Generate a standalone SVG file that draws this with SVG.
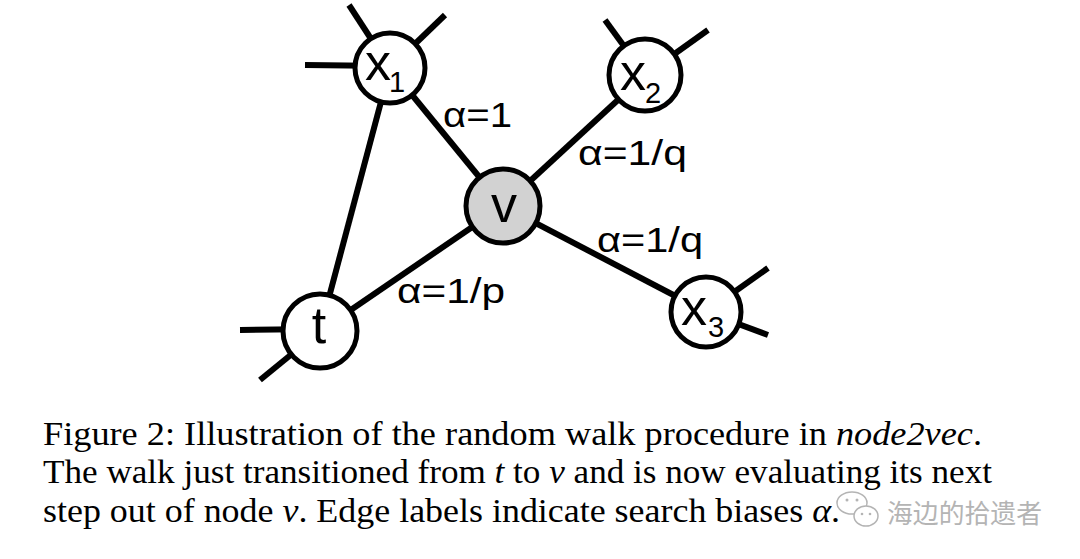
<svg xmlns="http://www.w3.org/2000/svg" width="1080" height="559" viewBox="0 0 1080 559">
<style>
.edge{stroke:#000;stroke-width:6;stroke-linecap:butt;fill:none}
.node{fill:#fff;stroke:#000;stroke-width:5}
.lbl{font-family:"Liberation Sans",Arial,sans-serif;fill:#000}
.nl{font-size:52px}
.sub{font-size:29px}
.el{font-size:35px}
.cap{font-family:"Liberation Serif","Times New Roman",serif;font-size:34px;fill:#000}
.it{font-style:italic}
.wm{font-family:"Noto Sans CJK SC",sans-serif;font-size:26px;fill:#b4b4b4}
</style>
<rect width="1080" height="559" fill="#fff"/>
<g id="connectors">
<line class="edge" x1="390" y1="68" x2="503" y2="206"/>
<line class="edge" x1="645" y1="75" x2="503" y2="206"/>
<line class="edge" x1="503" y1="206" x2="706" y2="312"/>
<line class="edge" x1="503" y1="206" x2="320" y2="331"/>
<line class="edge" x1="390" y1="68" x2="320" y2="331"/>
<line class="edge" x1="349" y1="5" x2="390" y2="68"/>
<line class="edge" x1="445" y1="15" x2="390" y2="68"/>
<line class="edge" x1="305" y1="65" x2="390" y2="66"/>
<line class="edge" x1="605" y1="20" x2="645" y2="75"/>
<line class="edge" x1="708" y1="30" x2="645" y2="75"/>
<line class="edge" x1="240" y1="330" x2="320" y2="329"/>
<line class="edge" x1="260" y1="380" x2="320" y2="331"/>
<line class="edge" x1="768" y1="268" x2="706" y2="312"/>
<line class="edge" x1="768" y1="335" x2="706" y2="312"/>
<text class="lbl el" x="443" y="127" textLength="69" lengthAdjust="spacingAndGlyphs">α=1</text>
<text class="lbl el" x="578" y="165" textLength="109" lengthAdjust="spacingAndGlyphs">α=1/q</text>
<text class="lbl el" x="597" y="252" textLength="106" lengthAdjust="spacingAndGlyphs">α=1/q</text>
<text class="lbl el" x="397" y="303" textLength="108" lengthAdjust="spacingAndGlyphs">α=1/p</text>
</g>
<g id="node-x1">
<circle class="node" cx="390" cy="68" r="35"/>
<text class="lbl nl" x="365" y="80">x</text><text class="lbl sub" x="389" y="92">1</text>
</g>
<g id="node-x2">
<circle class="node" cx="645" cy="75" r="36"/>
<text class="lbl nl" x="620" y="90">x</text><text class="lbl sub" x="645" y="103">2</text>
</g>
<g id="node-v">
<circle class="node" cx="503" cy="206" r="37" style="fill:#d2d2d2"/>
<text class="lbl nl" x="504" y="222" text-anchor="middle">v</text>
</g>
<g id="node-t">
<circle class="node" cx="320" cy="331" r="37"/>
<text class="lbl nl" x="319" y="343" text-anchor="middle">t</text>
</g>
<g id="node-x3">
<circle class="node" cx="706" cy="312" r="35"/>
<text class="lbl nl" x="681" y="325">x</text><text class="lbl sub" x="708" y="337">3</text>
</g>
<g id="caption">
<text class="cap" x="43" y="445" textLength="939" lengthAdjust="spacingAndGlyphs">Figure 2: Illustration of the random walk procedure in <tspan class="it">node2vec</tspan>.</text>
<text class="cap" x="43" y="483" textLength="949" lengthAdjust="spacingAndGlyphs">The walk just transitioned from <tspan class="it">t</tspan> to <tspan class="it">v</tspan> and is now evaluating its next</text>
<text class="cap" x="43" y="522" textLength="797" lengthAdjust="spacingAndGlyphs">step out of node <tspan class="it">v</tspan>. Edge labels indicate search biases <tspan class="it">α</tspan>.</text>
</g>
<g id="watermark">
<ellipse cx="852" cy="503" rx="15" ry="11" fill="#fff" stroke="#b4b4b4" stroke-width="1.5"/>
<ellipse cx="866" cy="516" rx="12" ry="10" fill="#fff" stroke="#b4b4b4" stroke-width="1.5"/>
<circle cx="847" cy="500" r="1.5" fill="#b4b4b4"/><circle cx="857" cy="500" r="1.5" fill="#b4b4b4"/>
<circle cx="862" cy="514" r="1.3" fill="#b4b4b4"/><circle cx="870" cy="514" r="1.3" fill="#b4b4b4"/>
<text class="wm" x="887" y="523" textLength="155" lengthAdjust="spacingAndGlyphs">海边的拾遗者</text>
</g>
</svg>
